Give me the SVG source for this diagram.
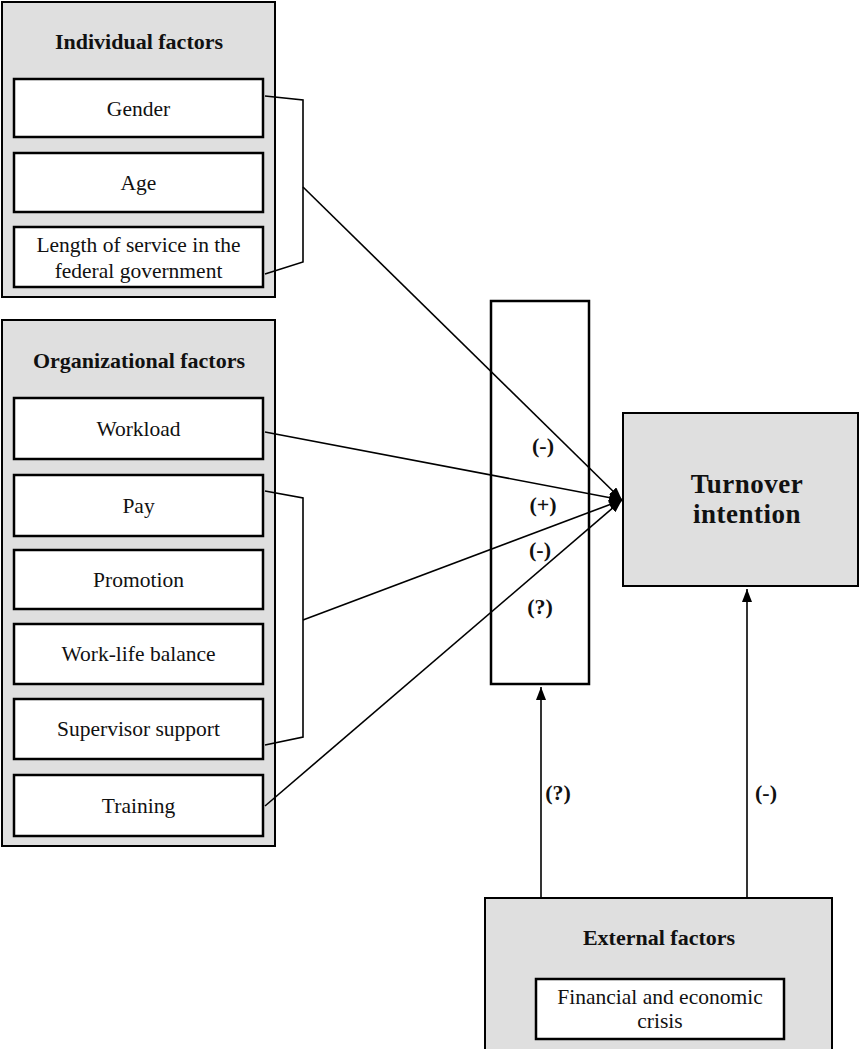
<svg xmlns="http://www.w3.org/2000/svg" width="868" height="1049" viewBox="0 0 868 1049">
<style>
.outer{fill:#dfdfdf;stroke:#000;stroke-width:2}
.inner{fill:#fff;stroke:#000;stroke-width:2.5}
.plain{fill:#fff;stroke:#000;stroke-width:2.5}
.t{font-family:"Liberation Serif","Times New Roman",serif;font-size:21.5px;fill:#111;text-anchor:middle}
.b{font-family:"Liberation Serif","Times New Roman",serif;font-size:22px;font-weight:bold;fill:#111;text-anchor:middle}
.big{font-family:"Liberation Serif","Times New Roman",serif;font-size:27px;font-weight:bold;fill:#111;text-anchor:middle;letter-spacing:0.5px}
.c{fill:none;stroke:#000;stroke-width:1.6}
</style>
<defs>
<marker id="ah" markerUnits="userSpaceOnUse" markerWidth="13" markerHeight="10" refX="13" refY="5" orient="auto">
<path d="M0,0 L13,5 L0,10 z" fill="#000"/>
</marker>
</defs>

<g id="individual-factors">
<rect class="outer" x="2" y="2" width="273" height="295"/>
<text class="b" x="139" y="49">Individual factors</text>
<g id="gender"><rect class="inner" x="14" y="79" width="249" height="58"/><text class="t" x="138.5" y="116">Gender</text></g>
<g id="age"><rect class="inner" x="14" y="153" width="249" height="59"/><text class="t" x="138.5" y="190">Age</text></g>
<g id="length-of-service"><rect class="inner" x="14" y="227" width="249" height="60"/><text class="t" x="138.5" y="252">Length of service in the</text><text class="t" x="138.5" y="278">federal government</text></g>
</g>

<g id="organizational-factors">
<rect class="outer" x="2" y="320" width="273" height="526"/>
<text class="b" x="139" y="368">Organizational factors</text>
<g id="workload"><rect class="inner" x="14" y="398" width="249" height="61"/><text class="t" x="138.5" y="436">Workload</text></g>
<g id="pay"><rect class="inner" x="14" y="475" width="249" height="61"/><text class="t" x="138.5" y="513">Pay</text></g>
<g id="promotion"><rect class="inner" x="14" y="550" width="249" height="59"/><text class="t" x="138.5" y="587">Promotion</text></g>
<g id="work-life-balance"><rect class="inner" x="14" y="624" width="249" height="60"/><text class="t" x="138.5" y="661">Work-life balance</text></g>
<g id="supervisor-support"><rect class="inner" x="14" y="699" width="249" height="60"/><text class="t" x="138.5" y="736">Supervisor support</text></g>
<g id="training"><rect class="inner" x="14" y="775" width="249" height="61"/><text class="t" x="138.5" y="813">Training</text></g>
</g>

<g id="moderator">
<rect class="plain" x="491" y="301" width="98" height="383"/>
</g>

<g id="turnover-intention">
<rect class="outer" x="623" y="413" width="235" height="173"/>
<text class="big" x="747" y="493">Turnover</text>
<text class="big" x="747" y="523">intention</text>
</g>

<g id="external-factors">
<rect class="outer" x="485" y="898" width="347" height="160"/>
<text class="b" x="659" y="945">External factors</text>
<g id="financial-crisis"><rect class="inner" x="536" y="979" width="248" height="60"/><text class="t" x="660" y="1004">Financial and economic</text><text class="t" x="660" y="1028">crisis</text></g>
</g>

<g id="connectors">
<polyline class="c" points="265,96 303,100 303,262 265,274"/>
<line class="c" x1="303" y1="187" x2="622" y2="500" marker-end="url(#ah)"/>
<line class="c" x1="265" y1="432" x2="622" y2="500" marker-end="url(#ah)"/>
<polyline class="c" points="265,491 303,498 303,737 265,745"/>
<line class="c" x1="303" y1="620" x2="622" y2="500" marker-end="url(#ah)"/>
<line class="c" x1="265" y1="806" x2="622" y2="500" marker-end="url(#ah)"/>
<line class="c" x1="541" y1="898" x2="541" y2="687" marker-end="url(#ah)"/>
<line class="c" x1="747" y1="898" x2="747" y2="589" marker-end="url(#ah)"/>
<text class="b" x="543" y="453">(-)</text>
<text class="b" x="543" y="512">(+)</text>
<text class="b" x="540" y="557">(-)</text>
<text class="b" x="540" y="614">(?)</text>
<text class="b" x="558" y="800">(?)</text>
<text class="b" x="766" y="800">(-)</text>
</g>
</svg>
